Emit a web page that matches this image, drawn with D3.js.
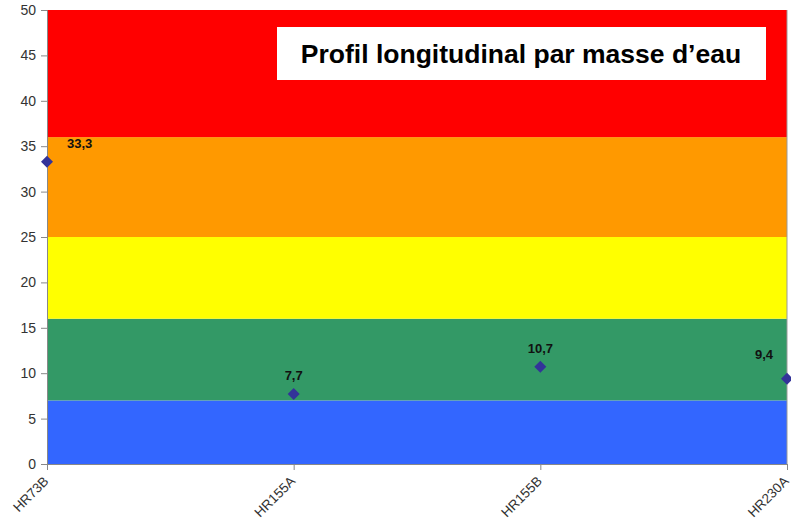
<!DOCTYPE html>
<html><head><meta charset="utf-8">
<script src="https://cdn.jsdelivr.net/npm/d3@7"></script>
<style>body{margin:0;background:#fff}svg{display:block;font-family:"Liberation Sans",Arial,sans-serif}</style>
</head><body><svg id="c" width="791" height="522"></svg>
<script>
const categories = ["HR73B","HR155A","HR155B","HR230A"];
const values = [33.3, 7.7, 10.7, 9.4];
const valueLabels = ["33,3","7,7","10,7","9,4"];
const bandBounds = [[0,7],[7,16],[16,25],[25,36],[36,50]];
const bandColors = ["#3366FF","#339966","#FFFF00","#FF9900","#FF0000"];
const yTicks = [0,5,10,15,20,25,30,35,40,45,50];
const title = "Profil longitudinal par masse d\u2019eau";

const svg = d3.select("#c");
const L=47,R=787,T=10,B=464;
const x = d3.scalePoint().domain(categories).range([L,R]);
const y = d3.scaleLinear().domain([0,50]).range([B,T]);

svg.selectAll("rect.band").data(bandBounds).join("rect")
  .attr("x",L).attr("width",R-L)
  .attr("y",d=>y(d[1])).attr("height",d=>y(d[0])-y(d[1]))
  .attr("fill",(d,i)=>bandColors[i]);

svg.append("line").attr("x1",R).attr("x2",R).attr("y1",T).attr("y2",B).attr("stroke","#999").attr("stroke-width",1);

const ya = svg.append("g").attr("transform",`translate(${L},0)`)
  .call(d3.axisLeft(y).tickValues(yTicks).tickSize(6).tickPadding(5));
ya.select(".domain").attr("stroke","#888");
ya.selectAll(".tick line").attr("stroke","#888");
ya.selectAll("text").attr("fill","#333").style("font-size","14px");

const xa = svg.append("g").attr("transform",`translate(0,${B})`)
  .call(d3.axisBottom(x).tickSize(6).tickSizeOuter(0));
xa.select(".domain").attr("stroke","#888");
xa.selectAll(".tick line").attr("stroke","#888");
xa.selectAll("text").attr("fill","#333").style("font-size","13.5px")
  .attr("text-anchor","end").attr("dy","0").attr("y",0)
  .attr("transform","translate(2,18) rotate(-45)");

const sym = d3.symbol().type(d3.symbolSquare).size(72);
svg.selectAll("path.pt").data(values).join("path")
  .attr("d",sym)
  .attr("transform",(d,i)=>`translate(${x(categories[i])},${y(d)}) rotate(45)`)
  .attr("fill","#333399");

const last = categories.length-1;
svg.selectAll("text.lbl").data(values).join("text")
  .attr("x",(d,i)=> i===0 ? x(categories[i])+20 : i===last ? x(categories[i])-14 : x(categories[i]))
  .attr("y",(d,i)=> i===last ? y(d)-20 : y(d)-14)
  .attr("text-anchor",(d,i)=> i===0 ? "start" : i===last ? "end" : "middle")
  .style("font-size","13px").style("font-weight","bold").attr("fill","#111")
  .text((d,i)=>valueLabels[i]);

svg.append("rect").attr("x",277).attr("y",27).attr("width",489).attr("height",53).attr("fill","#fff");
svg.append("text").attr("x",521).attr("y",63).attr("text-anchor","middle")
  .style("font-size","26.5px").style("font-weight","bold").attr("fill","#000").text(title);
</script></body></html>
